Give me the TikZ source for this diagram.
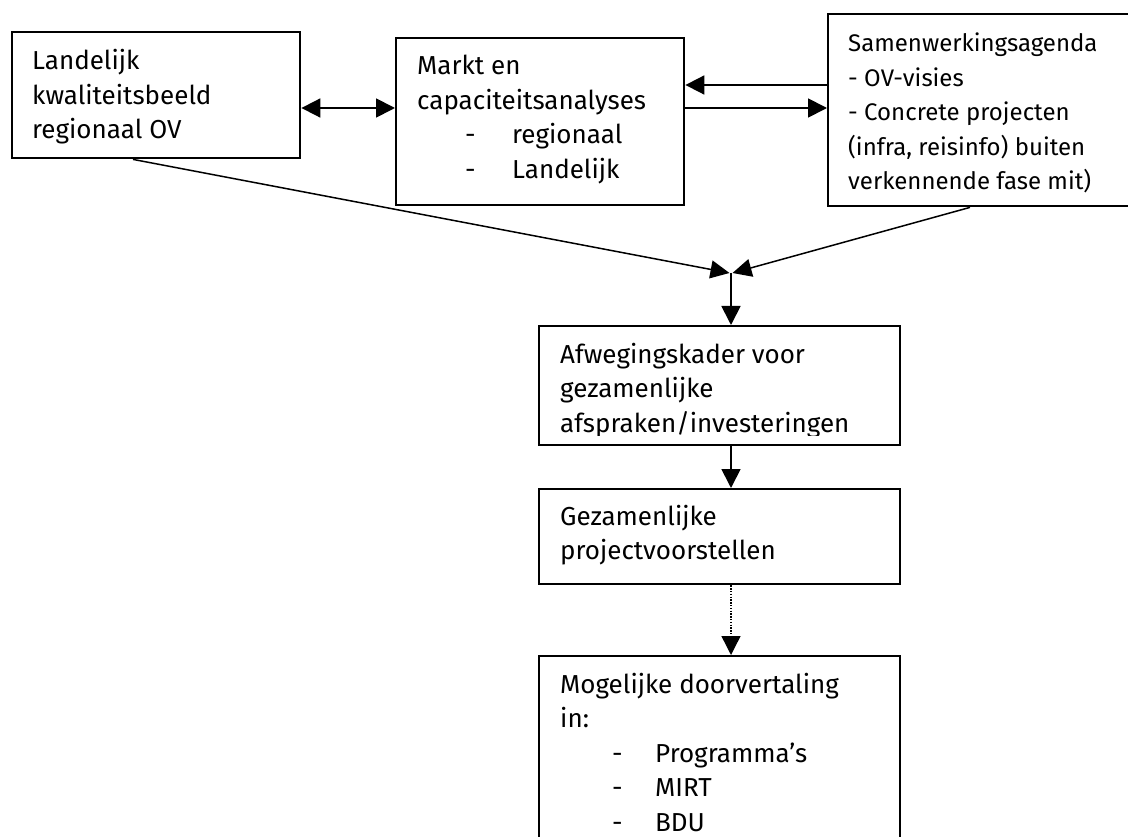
\documentclass[tikz,border=0pt]{standalone}
\usepackage{fontspec}
\setmainfont{Fira Sans}
\usetikzlibrary{arrows.meta,calc}
\newcommand\mystack[1]{\vtop{\baselineskip=34.5pt\lineskiplimit=-50pt\lineskip=0pt #1}}
\newcommand\myitem[3]{\hbox{\hbox to #1{}\hbox to #2{-\hss}#3}}
\begin{document}
\begin{tikzpicture}[x=1pt,y=-1pt,
  box/.style={draw, line width=2.4pt, inner sep=0pt, anchor=north west},
  txt/.style={inner sep=0pt, anchor=base west, font=\fontsize{26}{34.5}\selectfont},
  smalltxt/.style={inner sep=0pt, anchor=base west, font=\fontsize{24}{34.5}\selectfont},
  arr/.style={line width=1.8pt, -{Triangle[length=19pt,width=19pt]}},
  darr/.style={line width=1.8pt, {Triangle[length=19pt,width=19pt]}-{Triangle[length=19pt,width=19pt]}},
  slant/.style={line width=1.5pt, -{Triangle[length=19pt,width=18pt]}},
  dotarr/.style={line width=1.4pt, dash pattern=on 1.4pt off 1.4pt, -{Triangle[length=19pt,width=19pt]}}
]
\useasboundingbox (0,0) rectangle (1128,837);
\clip (0,0) rectangle (1128,837);

\node[box, minimum width=288pt, minimum height=126pt] (b1) at (11,31) {};
\node[box, minimum width=288pt, minimum height=167pt] (b2) at (395,37) {};
\node[box, minimum width=330pt, minimum height=192pt] (b3) at (827,13) {};
\node[box, minimum width=361pt, minimum height=119pt] (b4) at (538,325) {};
\node[box, minimum width=361pt, minimum height=95pt] (b5) at (538,488) {};
\node[box, minimum width=361pt, minimum height=230pt] (b6) at (538,655) {};

\node[txt] (t1) at (32,70) {\mystack{\hbox{Landelijk}\hbox{kwaliteitsbeeld}\hbox{regionaal OV}}};
\node[txt] (t2) at (417,75) {\mystack{\hbox{Markt en}\hbox{capaciteitsanalyses}\myitem{48pt}{47pt}{regionaal}\myitem{48pt}{47pt}{Landelijk}}};
\node[smalltxt] (t3) at (848,52) {\mystack{\hbox{Samenwerkingsagenda}\hbox{- OV-visies}\hbox{- Concrete projecten}\hbox{(infra, reisinfo) buiten}\hbox{verkennende fase mit)}}};
\begin{scope}
  \clip (b4.north west) rectangle ([yshift=11pt]b4.south east);
  \node[txt] (t4) at (560,363) {\mystack{\hbox{Afwegingskader voor}\hbox{gezamenlijke}\hbox{afspraken/investeringen}}};
\end{scope}
\node[txt] (t5) at (560,525) {\mystack{\hbox{Gezamenlijke}\hbox{projectvoorstellen}}};
\node[txt] (t6) at (560,693) {\mystack{\hbox{Mogelijke doorvertaling}\hbox{in:}\myitem{52pt}{43pt}{Programma's}\myitem{52pt}{43pt}{MIRT}\myitem{52pt}{43pt}{BDU}}};

\coordinate (ya) at (0,85);
\coordinate (yb) at (0,108);
\coordinate (m) at (731,273);
\draw[darr] (b1.east |- yb) -- (b2.west |- yb);
\draw[arr] (b3.west |- ya) -- (b2.east |- ya);
\draw[arr] (b2.east |- yb) -- (b3.west |- yb);
\draw[slant] ($(b1.south west)+(122,0)$) -- ([xshift=-1.5pt]m);
\draw[slant] ($(b3.south west)+(143,0)$) -- ([xshift=1.5pt]m);
\draw[arr] (m) -- (m |- b4.north);
\draw[arr] (b4.south -| m) -- (b5.north -| m);
\draw[dotarr] (b5.south -| m) -- (b6.north -| m);
\end{tikzpicture}
\end{document}
